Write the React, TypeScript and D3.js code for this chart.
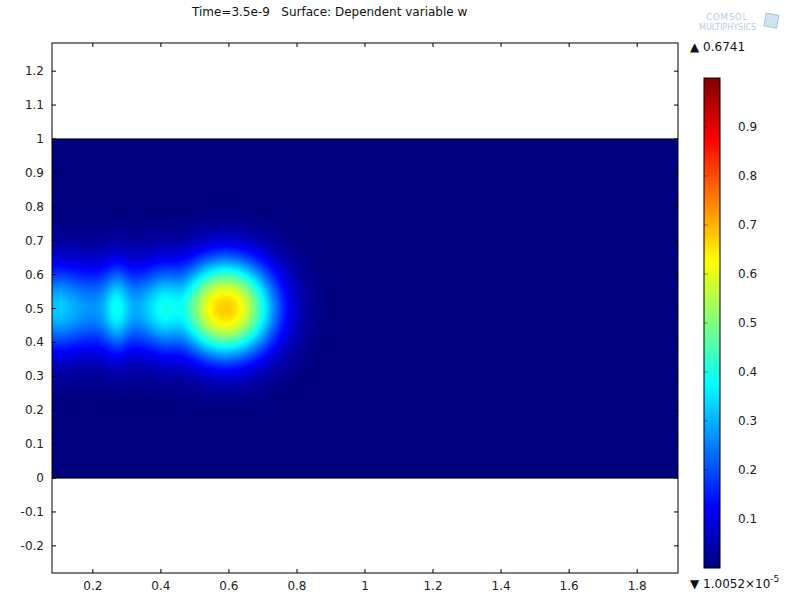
import React, { useMemo } from 'react';
import * as d3 from 'd3';

// axis ticks
const xTicks = [0.2, 0.4, 0.6, 0.8, 1, 1.2, 1.4, 1.6, 1.8];
const yTicks = [-0.2, -0.1, 0, 0.1, 0.2, 0.3, 0.4, 0.5, 0.6, 0.7, 0.8, 0.9, 1, 1.1, 1.2];
const cbTicks = [0.1, 0.2, 0.3, 0.4, 0.5, 0.6, 0.7, 0.8, 0.9];

// rainbow colour table
const cmapStops = [0, 0.125, 0.375, 0.625, 0.875, 1];
const cmapColors = ['#00007f', '#0000ff', '#00ffff', '#ffff00', '#ff0000', '#7f0000'];

// surface w: main pulse + trailing band along y = 0.5
const peakX = 0.59;
const peakY = 0.5;
const peakAmp = 0.674;
const peakW = 0.145;
const peakP = 2.2;

const bandBase = 0.265;
const bandEnd = 0.44;
const bandW = 0.13;

const bumpX = [0.1, 0.27, 0.41];
const bumpAmp = [0.06, 0.12, 0.05];
const bumpSx = [0.04, 0.025, 0.04];

const wMax = 0.6741;
const wMin = '1.0052';

function wAt(x: number, y: number) {
  const dy = y - peakY;
  const yProf = Math.exp(-(dy * dy) / (bandW * bandW));
  let band = bandBase;
  bumpX.forEach((bx, i) => {
    band += bumpAmp[i] * Math.exp(-((x - bx) * (x - bx)) / (2 * bumpSx[i] * bumpSx[i]));
  });
  band /= 1 + Math.exp((x - bandEnd) / 0.02);
  const r = Math.hypot(x - peakX, y - peakY);
  const peak = peakAmp * Math.exp(-Math.pow(r / peakW, peakP));
  return band * yProf + peak;
}

export default function App() {
  const W = 801;
  const H = 601;
  const x = d3.scaleLinear().domain([0.08, 1.92]).range([52, 678]);
  const y = d3.scaleLinear().domain([-0.28, 1.283]).range([573, 43]);
  const cb = d3.scaleLinear().domain([0, 1]).range([568, 78]);
  const color = d3.scaleLinear<string>().domain(cmapStops).range(cmapColors).clamp(true);

  const img = useMemo(() => {
    const [x0, x1] = x.domain();
    const pw = Math.round(x(x1) - x(x0));
    const ph = Math.round(y(0) - y(1));
    const canvas = document.createElement('canvas');
    canvas.width = pw;
    canvas.height = ph;
    const ctx = canvas.getContext('2d')!;
    const data = ctx.createImageData(pw, ph);
    for (let j = 0; j < ph; j++) {
      const yy = 1 - (j + 0.5) / ph;
      for (let i = 0; i < pw; i++) {
        const xx = x0 + ((i + 0.5) / pw) * (x1 - x0);
        const c = d3.rgb(color(wAt(xx, yy)));
        const k = (j * pw + i) * 4;
        data.data[k] = c.r;
        data.data[k + 1] = c.g;
        data.data[k + 2] = c.b;
        data.data[k + 3] = 255;
      }
    }
    ctx.putImageData(data, 0, 0);
    return canvas.toDataURL();
  }, []);

  const font = 'DejaVu Sans, sans-serif';
  const [xl, xr] = x.range();
  const [yb, yt] = y.range();

  return (
    <svg width={W} height={H} style={{ position: 'absolute', left: 0, top: 0 }} fontFamily={font}>
      <defs>
        <linearGradient id="cmap" x1="0" y1="1" x2="0" y2="0">
          {cmapStops.map((s, i) => (
            <stop key={i} offset={s} stopColor={cmapColors[i]} />
          ))}
        </linearGradient>
      </defs>
      <rect width={W} height={H} fill="#fff" />

      <text x={192} y={16} fontSize={12} fill="#111">
        Time=3.5e-9{'\u00a0\u00a0\u00a0'}Surface: Dependent variable w
      </text>

      {/* logo */}
      <text x={706} y={20} fontSize={9} fill="#b4cde0" letterSpacing={0.5}>COMSOL</text>
      <text x={699} y={30} fontSize={8} fill="#b4cde0">MULTIPHYSICS</text>
      <rect x={765} y={14} width={13} height={13} fill="#cfe2ef" stroke="#a9c6dc" transform="rotate(10 771 20)" />

      <image href={img} x={x(x.domain()[0])} y={y(1)} width={x(x.domain()[1]) - x(x.domain()[0])} height={y(0) - y(1)} preserveAspectRatio="none" />
      <line x1={xl} x2={xr} y1={y(1)} y2={y(1)} stroke="#000" strokeWidth={1} />
      <line x1={xl} x2={xr} y1={y(0)} y2={y(0)} stroke="#000" strokeWidth={1} />

      {/* frame */}
      <rect x={xl} y={yt} width={xr - xl} height={yb - yt} fill="none" stroke="#000" strokeWidth={1} />

      {xTicks.map((t) => (
        <g key={'x' + t}>
          <line x1={x(t)} x2={x(t)} y1={yb} y2={yb - 4} stroke="#000" />
          <line x1={x(t)} x2={x(t)} y1={yt} y2={yt + 4} stroke="#000" />
          <text x={x(t)} y={yb + 17} fontSize={12} textAnchor="middle" fill="#222">{String(t)}</text>
        </g>
      ))}
      {yTicks.map((t) => (
        <g key={'y' + t}>
          <line x1={xl} x2={xl + 4} y1={y(t)} y2={y(t)} stroke="#000" />
          <line x1={xr} x2={xr - 4} y1={y(t)} y2={y(t)} stroke="#000" />
          <text x={44} y={y(t) + 4} fontSize={12} textAnchor="end" fill="#222">{String(t)}</text>
        </g>
      ))}

      {/* colour bar */}
      <rect x={704} y={cb(1)} width={16} height={cb(0) - cb(1)} fill="url(#cmap)" stroke="#000" strokeWidth={1} />
      {cbTicks.map((t) => (
        <g key={'c' + t}>
          <line x1={704} x2={708} y1={cb(t)} y2={cb(t)} stroke="#000" strokeOpacity={0.4} />
          <text x={738} y={cb(t) + 4} fontSize={12} fill="#222">{String(t)}</text>
        </g>
      ))}
      <text x={690} y={51} fontSize={12} fill="#111">{'\u25b2 ' + wMax}</text>
      <text x={690} y={588} fontSize={12} fill="#111">
        {'\u25bc ' + wMin + '\u00d710'}
        <tspan dy={-6} fontSize={9}>-5</tspan>
      </text>
    </svg>
  );
}
